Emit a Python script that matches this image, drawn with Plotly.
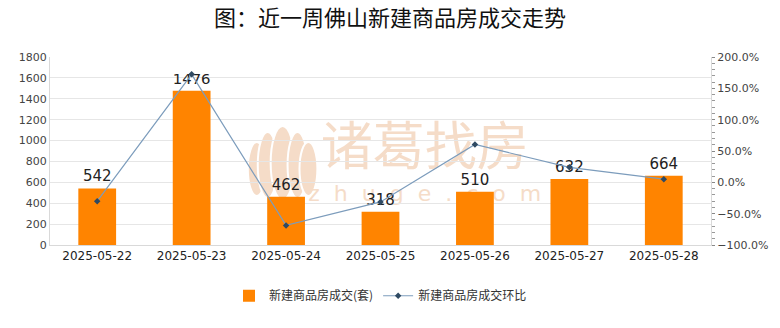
import plotly.graph_objects as go

dates = ["2025-05-22", "2025-05-23", "2025-05-24", "2025-05-25",
         "2025-05-26", "2025-05-27", "2025-05-28"]
deals = [542, 1476, 462, 318, 510, 632, 664]
mom_pct = [-30.0, 172.3, -68.7, -31.2, 60.4, 23.9, 5.1]

bar_name = "新建商品房成交(套)"
line_name = "新建商品房成交环比"
title = "图：近一周佛山新建商品房成交走势"

font_cn = "Noto Sans CJK SC"
W, H = 780, 328
ML, MR, MT, MB = 50, 65, 57, 83
PW, PH = W - ML - MR, H - MT - MB
WM = "#f5dcc8"


def px(x):
    return (x - ML) / PW


def py(y):
    return (H - MB - y) / PH


fig = go.Figure()

fig.add_trace(go.Bar(
    x=dates, y=deals, name=bar_name,
    marker=dict(color="#ff8400", line=dict(width=0)),
    width=0.4,
    text=[str(v) for v in deals], textposition="outside",
    textfont=dict(family="DejaVu Sans", size=15, color="#222222"),
    cliponaxis=False,
))
fig.add_trace(go.Scatter(
    x=dates, y=[v / 100 for v in mom_pct], name=line_name, yaxis="y2",
    mode="lines+markers",
    line=dict(color="#7c9cbc", width=1.2),
    marker=dict(symbol="diamond", size=5, color="#2f4a63"),
))

# brand watermark, drawn underneath the gridlines
shapes = []
petals = [(258, 142, 196, 9), (269, 132, 198, 10), (284, 126, 200, 12),
          (299, 132, 198, 10), (310, 142, 196, 9)]
for cx, y0, y1, hw in petals:
    shapes.append(dict(type="circle", xref="paper", yref="paper", layer="below",
                       x0=px(cx - hw), x1=px(cx + hw), y0=py(y1), y1=py(y0),
                       fillcolor=WM, line=dict(color="white", width=2)))
shapes.append(dict(type="rect", xref="paper", yref="paper", layer="below",
                   x0=px(322), x1=px(532), y0=py(176), y1=py(124),
                   fillcolor="rgba(0,0,0,0)", line=dict(width=0),
                   label=dict(text="诸葛找房", textposition="middle center",
                              font=dict(family=font_cn, size=52, color=WM))))
shapes.append(dict(type="rect", xref="paper", yref="paper", layer="below",
                   x0=px(322), x1=px(532), y0=py(202), y1=py(180),
                   fillcolor="rgba(0,0,0,0)", line=dict(width=0),
                   label=dict(text="z  h  u  g  e  .  c  o  m",
                              textposition="middle center",
                              font=dict(family="DejaVu Sans", size=22, color=WM))))

fig.update_layout(
    width=W, height=H,
    margin=dict(l=ML, r=MR, t=MT, b=MB),
    paper_bgcolor="white", plot_bgcolor="white",
    shapes=shapes,
    title=dict(text=title, x=0.5, xanchor="center", y=0.945, yanchor="middle",
               font=dict(family=font_cn, size=22, color="#111111")),
    font=dict(family=font_cn, size=12, color="#333333"),
    xaxis=dict(
        type="category", showgrid=False, showline=True, linecolor="#d9d9d9",
        ticks="", tickfont=dict(family="DejaVu Sans", size=12, color="#222222"),
        categoryorder="array", categoryarray=dates,
    ),
    yaxis=dict(
        range=[0, 1800], dtick=200, showgrid=True, gridcolor="#e6e6e6",
        showline=True, linecolor="#d9d9d9", zeroline=False,
        tickfont=dict(family="DejaVu Sans", size=11, color="#444444"),
    ),
    yaxis2=dict(
        overlaying="y", side="right", range=[-1.0, 2.0], dtick=0.5,
        tickformat=".1%", showgrid=False, zeroline=False,
        showline=True, linecolor="#d9d9d9",
        ticks="outside", ticklen=3, tickcolor="#888888",
        minor=dict(dtick=0.1, ticks="outside", ticklen=3, tickcolor="#999999"),
        tickfont=dict(family="DejaVu Sans", size=11, color="#444444"),
    ),
    legend=dict(
        orientation="h", x=0.5, xanchor="center", y=-0.27, yanchor="middle",
        font=dict(family=font_cn, size=12, color="#333333"),
        itemwidth=30,
    ),
)

fig.write_html("out.html")
